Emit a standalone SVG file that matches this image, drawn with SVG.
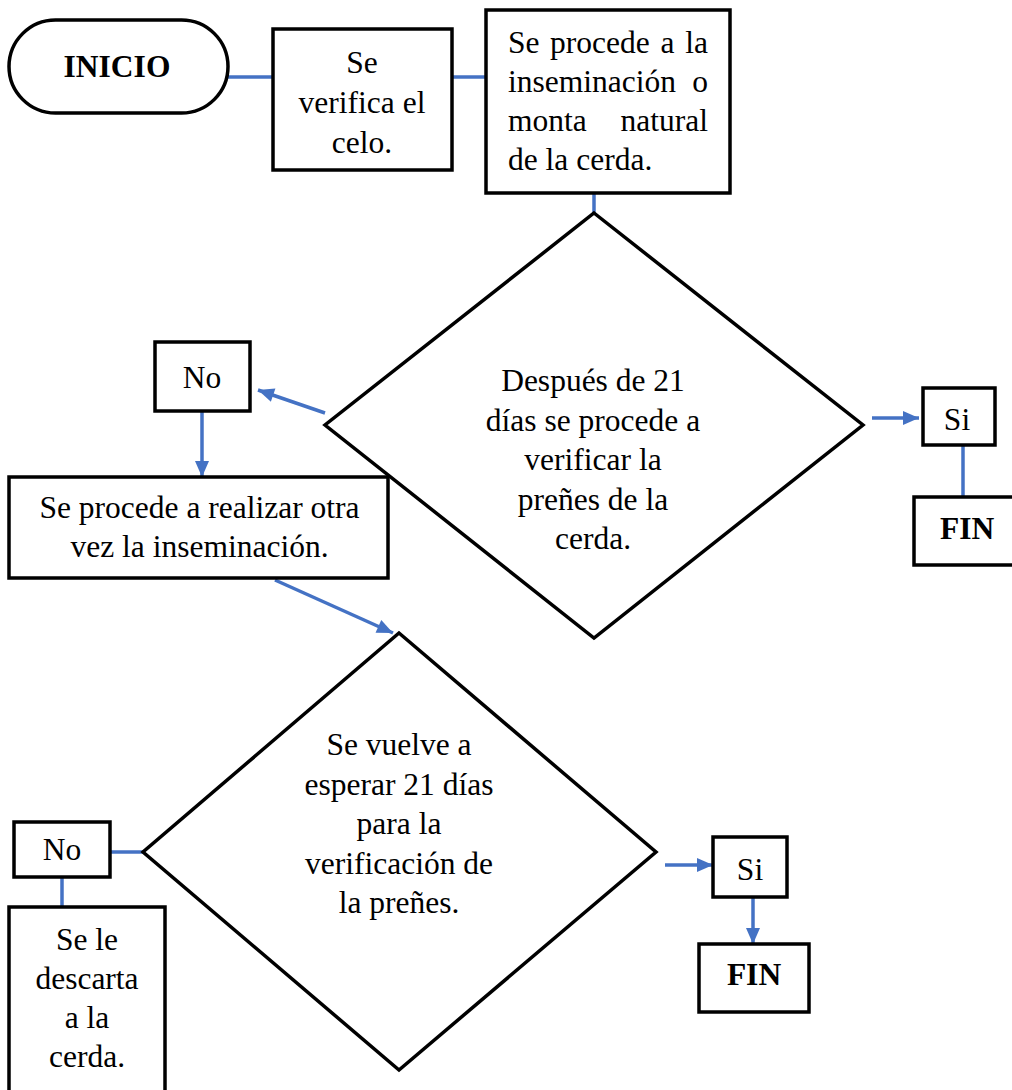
<svg xmlns="http://www.w3.org/2000/svg" width="1012" height="1090" viewBox="0 0 1012 1090">
<style>
.s{fill:#fff;stroke:#000;stroke-width:3.5}
.t{font-family:"Liberation Serif","Times New Roman",serif;font-size:31.5px;fill:#000}
.c{text-anchor:middle}
.b{font-weight:bold}
.k{stroke:#4472C4;stroke-width:3.5;fill:none}
</style>
<defs>
<marker id="a" markerUnits="userSpaceOnUse" markerWidth="20" markerHeight="20" viewBox="0 0 20 20" refX="18" refY="10" orient="auto">
<path d="M2,3 L18,10 L2,17 z" fill="#4472C4"/>
</marker>
</defs>
<rect width="1012" height="1090" fill="#fff"/>
<g id="connectors">
<line class="k" x1="228" y1="77" x2="273" y2="77"/>
<line class="k" x1="452" y1="77" x2="486" y2="77"/>
<line class="k" x1="594" y1="193" x2="594" y2="213"/>
<line class="k" x1="325" y1="413" x2="258" y2="390" marker-end="url(#a)"/>
<line class="k" x1="202" y1="411" x2="202" y2="477" marker-end="url(#a)"/>
<line class="k" x1="872" y1="418" x2="919" y2="418" marker-end="url(#a)"/>
<line class="k" x1="963" y1="445" x2="963" y2="497"/>
<line class="k" x1="275" y1="580" x2="393" y2="633" marker-end="url(#a)"/>
<line class="k" x1="110" y1="852" x2="144" y2="852"/>
<line class="k" x1="62" y1="877" x2="62" y2="907"/>
<line class="k" x1="665" y1="865" x2="713" y2="865" marker-end="url(#a)"/>
<line class="k" x1="753" y1="897" x2="753" y2="944" marker-end="url(#a)"/>
</g>
<g id="inicio">
<rect class="s" x="9" y="20" width="219" height="93" rx="46.5"/>
<text class="t c b" x="117" y="77">INICIO</text>
</g>
<g id="verifica">
<rect class="s" x="273" y="29" width="179" height="141"/>
<text class="t c" x="362" y="73">Se</text>
<text class="t c" x="362" y="113">verifica el</text>
<text class="t c" x="362" y="153">celo.</text>
</g>
<g id="procede">
<rect class="s" x="486" y="10" width="244" height="183"/>
<text class="t" x="508" y="53">Se</text>
<text class="t" x="550" y="53">procede</text>
<text class="t" x="660.5" y="53">a</text>
<text class="t" x="708" y="53" text-anchor="end">la</text>
<text class="t" x="508" y="92">inseminación</text>
<text class="t" x="708" y="92" text-anchor="end">o</text>
<text class="t" x="508" y="131">monta</text>
<text class="t" x="708" y="131" text-anchor="end">natural</text>
<text class="t" x="508" y="170">de la cerda.</text>
</g>
<g id="decision1">
<polygon class="s" points="594,213 863,425 594,638 325,425"/>
<text class="t c" x="593" y="391">Después de 21</text>
<text class="t c" x="593" y="430.5">días se procede a</text>
<text class="t c" x="593" y="470">verificar la</text>
<text class="t c" x="593" y="509.5">preñes de la</text>
<text class="t c" x="593" y="549">cerda.</text>
</g>
<g id="no1">
<rect class="s" x="155" y="342" width="95" height="69"/>
<text class="t c" x="202" y="388">No</text>
</g>
<g id="otra">
<rect class="s" x="9" y="477" width="379" height="101"/>
<text class="t c" x="199.5" y="518">Se procede a realizar otra</text>
<text class="t c" x="199.5" y="557">vez la inseminación.</text>
</g>
<g id="si1">
<rect class="s" x="923" y="388" width="72" height="57"/>
<text class="t c" x="957" y="430">Si</text>
</g>
<g id="fin1">
<rect class="s" x="914" y="497" width="110" height="68"/>
<text class="t b" x="940" y="539">FIN</text>
</g>
<g id="decision2">
<polygon class="s" points="399,633 656,852 399,1070 143,852"/>
<text class="t c" x="399" y="755">Se vuelve a</text>
<text class="t c" x="399" y="794.5">esperar 21 días</text>
<text class="t c" x="399" y="834">para la</text>
<text class="t c" x="399" y="873.5">verificación de</text>
<text class="t c" x="399" y="913">la preñes.</text>
</g>
<g id="no2">
<rect class="s" x="14" y="822" width="96" height="55"/>
<text class="t c" x="62" y="860">No</text>
</g>
<g id="descarta">
<rect class="s" x="9" y="907" width="156" height="200"/>
<text class="t c" x="87" y="950">Se le</text>
<text class="t c" x="87" y="989">descarta</text>
<text class="t c" x="87" y="1028">a la</text>
<text class="t c" x="87" y="1067">cerda.</text>
</g>
<g id="si2">
<rect class="s" x="713" y="837" width="74" height="60"/>
<text class="t c" x="750" y="880">Si</text>
</g>
<g id="fin2">
<rect class="s" x="699" y="944" width="110" height="68"/>
<text class="t c b" x="754" y="985">FIN</text>
</g>
</svg>
